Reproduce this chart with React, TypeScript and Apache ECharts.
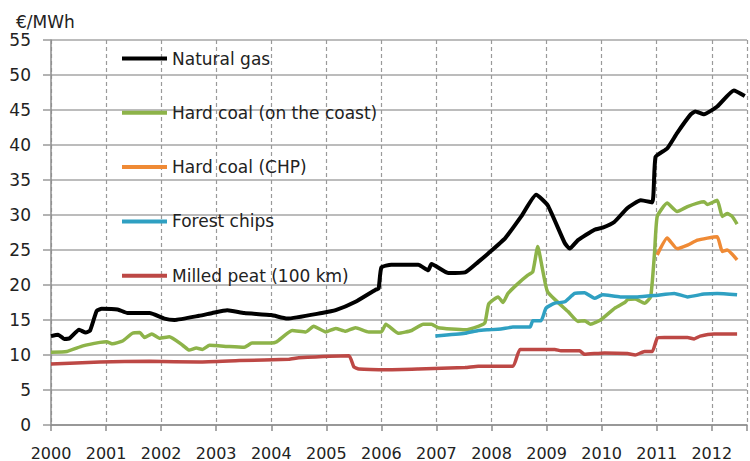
import React, { useEffect, useRef } from "react";
import * as echarts from "echarts";

const seriesNames = [
  "Natural gas",
  "Hard coal (on the coast)",
  "Hard coal (CHP)",
  "Forest chips",
  "Milled peat (100 km)",
];
const seriesColors = ["#000000", "#8db349", "#ef8a35", "#2fa0c2", "#bd4845"];

const yearTicks = [2000, 2001, 2002, 2003, 2004, 2005, 2006, 2007, 2008, 2009, 2010, 2011, 2012];

const naturalGas: [number, number][] = [
  [2000.0, 12.7], [2000.13, 12.9], [2000.24, 12.3], [2000.34, 12.4], [2000.51, 13.6], [2000.63, 13.2],
  [2000.71, 13.5], [2000.83, 16.3], [2000.92, 16.6], [2001.21, 16.5], [2001.39, 16.0], [2001.79, 16.0],
  [2002.06, 15.2], [2002.24, 15.0], [2002.69, 15.6], [2002.93, 16.0], [2003.2, 16.4], [2003.51, 16.0],
  [2004.0, 15.7], [2004.29, 15.2], [2004.92, 16.0], [2005.17, 16.4], [2005.53, 17.6], [2005.89, 19.3],
  [2005.95, 19.5], [2006.0, 22.5], [2006.18, 22.9], [2006.67, 22.9], [2006.85, 22.1], [2006.91, 23.0],
  [2007.22, 21.7], [2007.52, 21.8], [2007.76, 23.3], [2007.94, 24.5], [2008.25, 26.7], [2008.54, 29.8],
  [2008.81, 32.9], [2009.02, 31.4], [2009.33, 26.0], [2009.42, 25.2], [2009.57, 26.4], [2009.87, 27.9],
  [2010.02, 28.2], [2010.23, 29.0], [2010.47, 31.0], [2010.71, 32.1], [2010.92, 31.8], [2010.98, 38.3],
  [2011.19, 39.5], [2011.37, 41.7], [2011.61, 44.3], [2011.7, 44.8], [2011.86, 44.4], [2012.1, 45.5],
  [2012.4, 47.8], [2012.6, 47.0],
];

const hardCoalCoast: [number, number][] = [
  [2000.0, 10.4], [2000.29, 10.5], [2000.58, 11.3], [2000.89, 11.8], [2001.01, 11.9], [2001.12, 11.6],
  [2001.3, 12.0], [2001.48, 13.1], [2001.61, 13.2], [2001.7, 12.5], [2001.83, 13.0], [2001.97, 12.4],
  [2002.15, 12.6], [2002.39, 11.4], [2002.51, 10.7], [2002.64, 11.0], [2002.75, 10.8], [2002.88, 11.4],
  [2003.24, 11.2], [2003.51, 11.1], [2003.65, 11.7], [2004.0, 11.7], [2004.1, 11.9], [2004.38, 13.5],
  [2004.63, 13.3], [2004.77, 14.1], [2004.99, 13.3], [2005.17, 13.8], [2005.35, 13.4], [2005.53, 13.9],
  [2005.77, 13.3], [2006.0, 13.3], [2006.08, 14.4], [2006.31, 13.1], [2006.55, 13.5], [2006.76, 14.4],
  [2006.91, 14.4], [2007.03, 13.9], [2007.52, 13.6], [2007.76, 14.1], [2007.88, 14.6], [2007.95, 17.3],
  [2008.12, 18.3], [2008.21, 17.5], [2008.3, 18.8], [2008.48, 20.2], [2008.66, 21.4], [2008.75, 21.9],
  [2008.84, 25.5], [2008.93, 22.1], [2009.02, 19.0], [2009.39, 16.2], [2009.57, 14.8], [2009.69, 14.9],
  [2009.8, 14.4], [2009.98, 15.0], [2010.24, 16.7], [2010.42, 17.5], [2010.47, 17.9], [2010.61, 18.0],
  [2010.78, 17.4], [2010.89, 18.3], [2010.96, 24.5], [2011.01, 29.8], [2011.19, 31.7], [2011.37, 30.5],
  [2011.56, 31.2], [2011.74, 31.7], [2011.86, 31.9], [2011.92, 31.5], [2012.1, 32.1], [2012.19, 29.8],
  [2012.28, 30.2], [2012.37, 29.8], [2012.46, 28.7],
];

const hardCoalChp: [number, number][] = [
  [2011.01, 24.3], [2011.19, 26.7], [2011.37, 25.2], [2011.56, 25.7], [2011.74, 26.4], [2011.92, 26.7],
  [2012.1, 26.9], [2012.19, 24.8], [2012.28, 25.0], [2012.46, 23.6],
];

const forestChips: [number, number][] = [
  [2006.98, 12.7], [2007.52, 13.1], [2007.76, 13.5], [2007.94, 13.6], [2008.17, 13.7], [2008.39, 14.0],
  [2008.7, 14.0], [2008.75, 14.9], [2008.9, 14.9], [2008.99, 16.7], [2009.15, 17.4], [2009.33, 17.6],
  [2009.51, 18.8], [2009.69, 18.9], [2009.87, 18.1], [2010.02, 18.6], [2010.34, 18.3], [2010.65, 18.3],
  [2010.96, 18.5], [2011.32, 18.8], [2011.56, 18.3], [2011.86, 18.7], [2012.1, 18.8], [2012.46, 18.6],
];

const milledPeat: [number, number][] = [
  [2000.0, 8.7], [2000.89, 9.0], [2001.79, 9.1], [2002.69, 9.0], [2003.42, 9.2], [2004.32, 9.4],
  [2004.5, 9.6], [2005.41, 9.9], [2005.5, 8.3], [2005.59, 8.0], [2006.13, 7.9], [2006.67, 8.0],
  [2007.52, 8.2], [2007.76, 8.4], [2008.39, 8.4], [2008.52, 10.8], [2009.15, 10.8], [2009.26, 10.6],
  [2009.6, 10.6], [2009.69, 10.1], [2010.05, 10.3], [2010.47, 10.2], [2010.61, 10.0], [2010.78, 10.5],
  [2010.92, 10.5], [2011.01, 12.4], [2011.14, 12.5], [2011.56, 12.5], [2011.68, 12.3], [2011.79, 12.7],
  [2012.04, 13.0], [2012.46, 13.0],
];

const seriesData = [naturalGas, hardCoalCoast, hardCoalChp, forestChips, milledPeat];
const lineWidths = [4, 3.5, 3.5, 3.5, 3.5];

const FONT = "DejaVu Sans";

export default function App() {
  const ref = useRef<HTMLDivElement>(null);
  useEffect(() => {
    document.body.style.margin = "0";
    if (!ref.current) return;
    const chart = echarts.init(ref.current, undefined, { renderer: "svg" });
    const option: any = {
      animation: false,
      backgroundColor: "#ffffff",
      title: {
        text: "€/MWh",
        left: 16,
        top: 13,
        padding: 0,
        textStyle: { fontFamily: FONT, fontSize: 17, fontWeight: "normal", color: "#222" },
      },
      legend: {
        data: seriesNames,
        orient: "vertical",
        left: 120,
        top: 50,
        padding: 0,
        itemWidth: 45,
        itemHeight: 16,
        itemGap: 37.3,
        itemStyle: { opacity: 0, borderWidth: 0 },
        lineStyle: { width: 4 },
        textStyle: { fontFamily: FONT, fontSize: 17, color: "#222" },
      },
      grid: { left: 51, right: 0, top: 40, bottom: 36, containLabel: false },
      xAxis: {
        type: "value",
        min: yearTicks[0],
        max: 2012.64,
        interval: 1,
        axisLine: { lineStyle: { color: "#8c8c8c", width: 1.5 } },
        axisTick: { show: true, length: 6, lineStyle: { color: "#8c8c8c", width: 1.5 } },
        axisLabel: {
          fontFamily: FONT,
          fontSize: 16,
          color: "#222",
          margin: 20,
          formatter: (v: number) => (yearTicks.includes(v) ? String(v) : ""),
        },
        splitLine: { show: true, lineStyle: { color: "#9a9a9a", type: [4, 3], width: 1.2 } },
      },
      yAxis: {
        type: "value",
        min: 0,
        max: 55,
        interval: 5,
        axisLine: { show: true, lineStyle: { color: "#8c8c8c", width: 1.5 } },
        axisTick: { show: true, length: 8, lineStyle: { color: "#9a9a9a", width: 1.5 } },
        axisLabel: { fontFamily: FONT, fontSize: 17, color: "#222", margin: 20 },
        splitLine: { show: true, lineStyle: { color: "#a6a6a6", width: 1.5 } },
      },
      series: seriesNames.map((name, i) => ({
        name,
        type: "line",
        data: seriesData[i],
        showSymbol: false,
        symbol: "none",
        smooth: 0.15,
        z: i === 0 ? 5 : 3,
        lineStyle: { color: seriesColors[i], width: lineWidths[i] },
        itemStyle: { color: seriesColors[i] },
      })),
    };
    chart.setOption(option);
    return () => chart.dispose();
  }, []);
  return <div ref={ref} style={{ width: 750, height: 461 }} />;
}
